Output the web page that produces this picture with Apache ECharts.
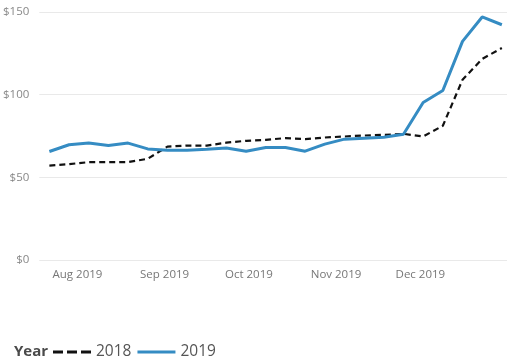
<!DOCTYPE html>
<html>
<head>
<meta charset="utf-8">
<script src="https://cdn.jsdelivr.net/npm/echarts@6/dist/echarts.min.js"></script>
<style>html,body{margin:0;padding:0;background:#fff;}#c{width:510px;height:360px;}</style>
</head>
<body>
<div id="c"></div>
<script>
var weeks = ['2019-07-22','2019-07-29','2019-08-05','2019-08-12','2019-08-19','2019-08-26',
  '2019-09-02','2019-09-09','2019-09-16','2019-09-23','2019-09-30','2019-10-07',
  '2019-10-14','2019-10-21','2019-10-28','2019-11-04','2019-11-11','2019-11-18',
  '2019-11-25','2019-12-02','2019-12-09','2019-12-16','2019-12-23','2019-12-30'];
var values2018 = [57.1,58.0,59.2,59.2,59.2,61.2,68.6,69.2,69.2,71.0,72.1,72.7,
  73.7,73.1,74.1,74.7,75.3,75.7,76.3,74.7,81.2,109.0,121.6,128.2];
var values2019 = [65.6,69.7,70.7,69.2,70.7,67.2,66.4,66.4,67.0,67.7,65.8,68.0,
  68.0,65.8,70.1,73.1,73.7,74.3,76.1,95.3,102.5,132.2,147.0,142.3];
var tickDates = ['2019-08-01','2019-09-01','2019-10-01','2019-11-01','2019-12-01'];
var tickLabels = ['Aug 2019','Sep 2019','Oct 2019','Nov 2019','Dec 2019'];
var yTicks = [0,50,100,150];
var seriesNames = ['2018','2019'];
var legendTitle = 'Year';

function ts(s){ var p=s.split('-'); return Date.UTC(+p[0], +p[1]-1, +p[2]); }
var tickTs = tickDates.map(ts);
var labelMap = {};
tickTs.forEach(function(t,i){ labelMap[t]=tickLabels[i]; });

var dashIcon = 'path://M0,0H10V3H0Z M14,0H24V3H14Z M28,0H38V3H28Z';
var solidIcon = 'path://M0,0H38V3H0Z';

var chart = echarts.init(document.getElementById('c'), null, {renderer:'canvas'});
var font = '"Open Sans", "Noto Sans", sans-serif';
chart.setOption({
  animation:false,
  textStyle:{fontFamily:font},
  grid:{left:38, right:3, top:12, bottom:100, containLabel:false},
  title:{text:legendTitle, left:14, top:344, padding:0,
    textStyle:{fontFamily:font, fontSize:15, fontWeight:'bold', color:'#4a4a4a'}},
  legend:{
    left:53, top:344, padding:0, itemGap:6, itemWidth:38, itemHeight:3,
    textStyle:{fontFamily:font, fontSize:15.5, color:'#555'},
    data:[{name:seriesNames[0], icon:dashIcon, itemStyle:{color:'#111'}},
          {name:seriesNames[1], icon:solidIcon, itemStyle:{color:'#358cc3'}}]
  },
  xAxis:{
    type:'value',
    min: ts('2019-07-18') + 10*3600*1000,
    max: ts('2019-12-31') + 20*3600*1000,
    axisLine:{show:false}, axisTick:{show:false}, splitLine:{show:false},
    axisLabel:{
      customValues: tickTs,
      color:'#777', fontSize:11.5, fontFamily:font, margin:9,
      formatter:function(v){ return labelMap[v] || ''; }
    }
  },
  yAxis:{
    type:'value', min:yTicks[0], max:yTicks[yTicks.length-1], interval:50,
    axisLine:{show:false}, axisTick:{show:false},
    splitLine:{lineStyle:{color:'#e9e9e9', width:1}},
    axisLabel:{color:'#888', fontSize:11.5, fontFamily:font, margin:10,
      formatter:function(v){ return '$'+v; }}
  },
  series:[
    {name:seriesNames[0], type:'line', symbol:'none', z:2,
     data: weeks.map(function(w,i){ return [ts(w), values2018[i]]; }),
     lineStyle:{color:'#111', width:2.2, type:[6,4]}, itemStyle:{color:'#111'}},
    {name:seriesNames[1], type:'line', symbol:'none', z:3,
     data: weeks.map(function(w,i){ return [ts(w), values2019[i]]; }),
     lineStyle:{color:'#358cc3', width:3}, itemStyle:{color:'#358cc3'}}
  ]
});
</script>
</body>
</html>
